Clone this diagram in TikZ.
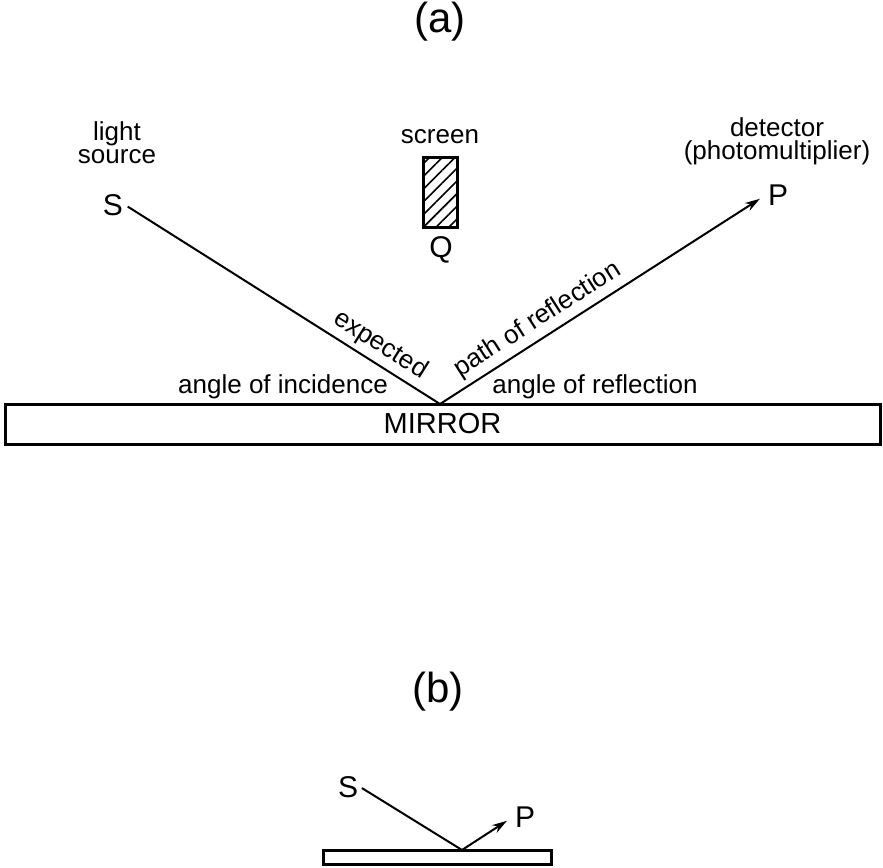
\documentclass[tikz,border=0pt]{standalone}
\usepackage{fontspec}
\setmainfont{Liberation Sans}
\usetikzlibrary{arrows.meta,patterns.meta}
\tikzset{
  title/.style     = {font=\fontsize{42}{42}\selectfont},
  lbl/.style       = {font=\fontsize{26}{23}\selectfont, inner sep=0pt},
  letter/.style    = {font=\fontsize{30}{30}\selectfont, inner sep=2pt},
  ray/.style       = {line width=2pt},
  arrowray/.style  = {ray, -{Stealth[length=15pt,width=9pt]}},
  mirrorbox/.style = {draw, line width=3pt, inner sep=0pt, font=\fontsize{29}{29}\selectfont},
  screenbox/.style = {draw, line width=3pt, minimum width=34pt, minimum height=70pt,
                      pattern={Lines[angle=45,distance=9pt,line width=1.6pt]}}
}
\begin{document}
\begin{tikzpicture}[x=1pt,y=-1pt]
  \useasboundingbox (0,0) rectangle (883,867);
  % (a)
  \node[title] (ta) at (440,22) {(a)};
  \node[lbl, align=center] (src) at (117,143) {light\\source};
  \node[letter] (S) at (113,205) {S};
  \node[lbl] (scr) at (440,137) {screen};
  \node[screenbox] (Qb) at (440,192) {};
  \node[letter] (Q) at (441,250) {Q};
  \node[lbl, align=center] (det) at (777,141) {detector\\(photomultiplier)};
  \node[letter] (P) at (778,195) {P};
  \node[mirrorbox, minimum width=875pt, minimum height=40pt] (M) at (442.5,424) {MIRROR};
  \coordinate (O) at (440,404);
  \draw[ray, shorten <=3pt] (S.east) -- (O) node[lbl, pos=0.78, sloped, above=5pt] {expected};
  \draw[arrowray, shorten >=7pt] (O) -- (P.west) node[lbl, pos=0.33, sloped, above=5pt] {path of reflection};
  \node[lbl, anchor=base] (ai) at (283,393) {angle of incidence};
  \node[lbl, anchor=base] (ar) at (595,393) {angle of reflection};
  % (b)
  \node[title] (tb) at (438,692) {(b)};
  \node[letter] (S2) at (348,787) {S};
  \node[letter] (P2) at (525,817) {P};
  \node[mirrorbox, minimum width=228pt, minimum height=14pt] (M2) at (437,857) {};
  \coordinate (O2) at (462,850);
  \draw[ray, shorten <=2pt] (S2.east) -- (O2);
  \draw[arrowray, shorten >=7pt] (O2) -- (P2.west);
\end{tikzpicture}
\end{document}
